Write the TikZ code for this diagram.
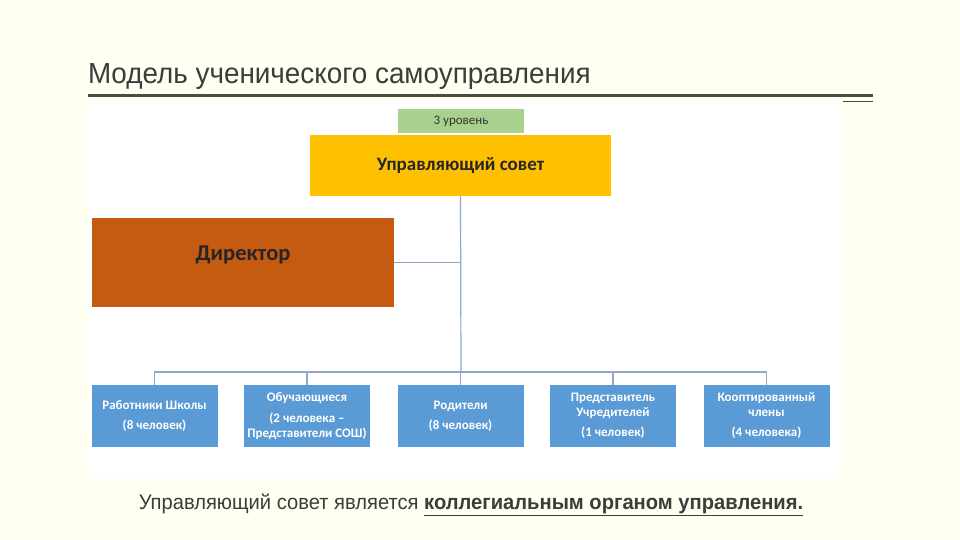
\documentclass[tikz,border=0pt]{standalone}
\usepackage{fontspec}
\setmainfont{Liberation Sans}
\newfontfamily\narrowfont[FakeStretch=0.96]{Liberation Sans}
\newfontfamily\boxfont{Carlito}
\definecolor{pagebg}{HTML}{FFFFF2}
\definecolor{rulecol}{HTML}{4B4B3E}
\definecolor{titlecol}{HTML}{3C3C3C}
\definecolor{levelgreen}{HTML}{A9D18E}
\definecolor{councilyellow}{HTML}{FFC000}
\definecolor{directororange}{HTML}{C55A11}
\definecolor{memberblue}{HTML}{5B9BD5}
\definecolor{linkcol}{HTML}{8EA9C8}
\begin{document}
\begin{tikzpicture}[
      x=1pt, y=-1pt,
      every node/.style={inner sep=0pt, outer sep=0pt},
      level/.style={fill=levelgreen, minimum width=126pt, minimum height=24pt, font=\boxfont\fontsize{13}{15}\selectfont, text=black!80},
      council/.style={fill=councilyellow, minimum width=301pt, minimum height=61pt, font=\boxfont\bfseries\fontsize{19}{22}\selectfont, text=black!85},
      director/.style={fill=directororange, minimum width=302pt, minimum height=89pt},
      dirtext/.style={font=\boxfont\bfseries\fontsize{22.5}{26}\selectfont, text=black!85},
      member/.style={fill=memberblue, minimum width=126pt, minimum height=62pt, align=center, text=white, font=\boxfont\bfseries\fontsize{13}{15}\selectfont},
      link/.style={draw=linkcol, line width=1.2pt}
    ]
      % page and panel
      \fill[pagebg] (0,0) rectangle (960,540);
      \fill[white] (88,100) rectangle (840,478);
      \useasboundingbox (0,0) rectangle (960,540);
      % heading
      \node[anchor=base west, text=titlecol, font=\narrowfont\fontsize{29}{32}\selectfont] (heading) at (88,84) {Модель ученического самоуправления};
      \fill[rulecol] (88,94.5) rectangle (873,97.5);
      \fill[rulecol] (843,101.5) rectangle (873,102.5);
      % boxes
      \node[level] (lvl) at (461,121) {3 уровень};
      \node[council] (uc) at (460.5,165.5) {Управляющий совет};
      \node[director] (dir) at (243,262.5) {};
      \node[dirtext] (dirlabel) at ([yshift=8pt]dir.center) {Директор};
      \coordinate (bus) at (461,372);
      \node[member] (staff) at (154.5,416) {Работники Школы\\[5pt](8 человек)};
      \node[member] (pupils) at (307,416) {Обучающиеся\\[6pt](2 человека –\\Представители СОШ)};
      \node[member] (parents) at (460.5,416) {Родители\\[5pt](8 человек)};
      \node[member] (founder) at (613,416) {Представитель\\Учредителей\\[5pt](1 человек)};
      \node[member] (coopt) at (766.5,416) {Кооптированный\\члены\\[5pt](4 человека)};
      % connectors
      \draw[link] (uc.south) -- (bus);
      \draw[link] (dir.east) -- (dir.east -| uc.south);
      \draw[link] (staff.north) |- (bus) -| (coopt.north);
      \draw[link] (pupils.north) -- (pupils.north |- bus);
      \draw[link] (parents.north) -- (parents.north |- bus);
      \draw[link] (founder.north) -- (founder.north |- bus);
      % footnote
      \node[anchor=base, text=titlecol, font=\narrowfont\fontsize{21}{24}\selectfont] (note) at (471,509) {Управляющий совет является \textbf{\underline{коллегиальным органом управления.}}};
    \end{tikzpicture}
\end{document}
